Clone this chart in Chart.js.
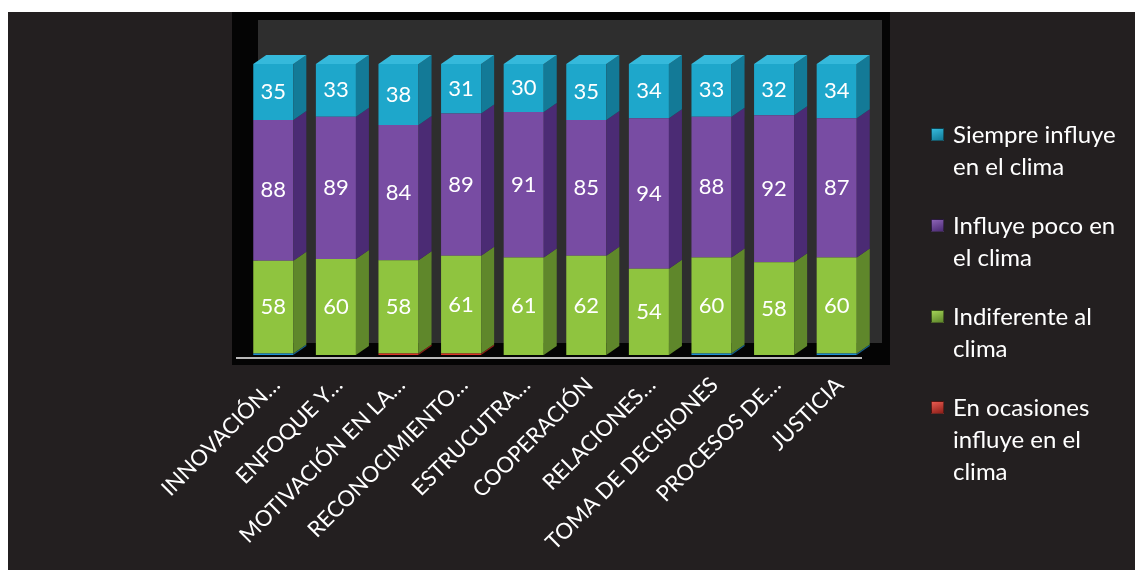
<!DOCTYPE html>
<html>
<head>
<meta charset="utf-8">
<script src="https://cdn.jsdelivr.net/npm/chart.js@4.4.1/dist/chart.umd.min.js"></script>
<style>
  html, body { margin: 0; padding: 0; background: #fff; }
  #wrap { position: relative; width: 1135px; height: 570px; overflow: hidden; }
  #bg { position: absolute; left: 8px; top: 12px; right: 0; bottom: 0; background: #231f20; }
  #chart { position: absolute; left: 0; top: 0; }
  #legend { position: absolute; left: 931px; top: 118px; width: 205px; font-family: Lato, sans-serif; font-size: 24px; line-height: 32px; color: #fff; }
  #legend .item { position: relative; padding-left: 22px; margin-bottom: 27px; }
  #legend .box { position: absolute; left: 0; top: 10px; width: 13px; height: 13px; box-sizing: border-box; border: 1px solid rgba(0,0,0,0.5); }
</style>
</head>
<body>
<div id="wrap">
  <div id="bg"></div>
  <canvas id="chart" width="1135" height="570"></canvas>
  <div id="legend"></div>
</div>
<script>
  var categorias = ["INNOVACIÓN…", "ENFOQUE Y…", "MOTIVACIÓN EN LA…", "RECONOCIMIENTO…", "ESTRUCUTRA…",
                    "COOPERACIÓN", "RELACIONES…", "TOMA DE DECISIONES", "PROCESOS DE…", "JUSTICIA"];
  var siempre     = [35, 33, 38, 31, 30, 35, 34, 33, 32, 34];
  var poco        = [88, 89, 84, 89, 91, 85, 94, 88, 92, 87];
  var indiferente = [58, 60, 58, 61, 61, 62, 54, 60, 58, 60];
  var ocasiones   = [0, 0, 1, 1, 0, 0, 0, 0, 0, 0];
  var sinDato     = [1, 0, 0, 0, 0, 0, 0, 1, 0, 1];

  // colores: cara frontal, lateral y superior de cada serie
  var estilos = {
    ocasiones:   { front: "#d9362c", side: "#8f1f19", top: "#e85a50" },
    sinDato:     { front: "#1f8fd6", side: "#155f8f", top: "#3aa3e0" },
    indiferente: { front: "#8fc43f", side: "#5f872b", top: "#a3d257" },
    poco:        { front: "#784ca3", side: "#4b2b74", top: "#8c63b5" },
    siempre:     { front: "#1ea7cb", side: "#137a97", top: "#35b9db" }
  };

  var series = [
    { key: "ocasiones",   label: "En ocasiones influye en el clima", data: ocasiones,   legend: true },
    { key: "sinDato",     label: "Sin dato",                          data: sinDato,     legend: false },
    { key: "indiferente", label: "Indiferente al clima",              data: indiferente, legend: true },
    { key: "poco",        label: "Influye poco en el clima",          data: poco,        legend: true },
    { key: "siempre",     label: "Siempre influye en el clima",       data: siempre,     legend: true }
  ];

  // totales por categoría para apilar al 100 %
  var totales = categorias.map(function (c, i) {
    return series.reduce(function (s, d) { return s + d.data[i]; }, 0);
  });

  var DX = 13, DY = 9;

  var barras3d = {
    id: "barras3d",
    beforeDatasetsDraw: function (chart) {
      var ctx = chart.ctx, a = chart.chartArea;
      ctx.save();
      ctx.fillStyle = "#040404";
      ctx.fillRect(a.left - 10, a.top - 52, a.right - a.left + 32, a.bottom - a.top + 62);
      ctx.fillStyle = "#2e2e2e";
      ctx.fillRect(a.left + 16, a.top - 44, a.right - a.left - 2, a.bottom - a.top + 32);
      ctx.restore();
    },
    afterDatasetsDraw: function (chart) {
      var ctx = chart.ctx, a = chart.chartArea;
      ctx.save();
      chart.data.datasets.forEach(function (ds, di) {
        var meta = chart.getDatasetMeta(di);
        var st = estilos[ds.key];
        meta.data.forEach(function (bar, i) {
          if (ds.raw[i] === 0) return;
          var xl = bar.x - bar.width / 2, xr = bar.x + bar.width / 2;
          var yt = Math.min(bar.y, bar.base), yb = Math.max(bar.y, bar.base);
          ctx.fillStyle = st.side;
          ctx.beginPath();
          ctx.moveTo(xr, yt);
          ctx.lineTo(xr + DX, yt - DY);
          ctx.lineTo(xr + DX, yb - DY);
          ctx.lineTo(xr, yb);
          ctx.closePath();
          ctx.fill();
          if (di === chart.data.datasets.length - 1) {
            ctx.fillStyle = st.top;
            ctx.beginPath();
            ctx.moveTo(xl, yt);
            ctx.lineTo(xl + DX, yt - DY);
            ctx.lineTo(xr + DX, yt - DY);
            ctx.lineTo(xr, yt);
            ctx.closePath();
            ctx.fill();
          }
        });
      });
      // línea del eje
      ctx.strokeStyle = "#b9b9b9";
      ctx.lineWidth = 2;
      ctx.beginPath();
      ctx.moveTo(a.left - 6, a.bottom + 3);
      ctx.lineTo(a.right - 6, a.bottom + 3);
      ctx.stroke();
      // valores
      ctx.fillStyle = "#fff";
      ctx.font = "22px Lato, sans-serif";
      ctx.textAlign = "center";
      ctx.textBaseline = "middle";
      chart.data.datasets.forEach(function (ds, di) {
        var meta = chart.getDatasetMeta(di);
        meta.data.forEach(function (bar, i) {
          if (ds.raw[i] < 5) return;
          ctx.fillText(String(ds.raw[i]), bar.x, (bar.y + bar.base) / 2);
        });
      });
      ctx.restore();
    }
  };

  new Chart(document.getElementById("chart"), {
    type: "bar",
    data: {
      labels: categorias,
      datasets: series.map(function (s) {
        return {
          key: s.key,
          label: s.label,
          raw: s.data,
          data: s.data.map(function (v, i) { return v / totales[i] * 100; }),
          backgroundColor: estilos[s.key].front,
          borderWidth: 0,
          barPercentage: 0.64,
          categoryPercentage: 1
        };
      })
    },
    options: {
      responsive: false,
      animation: false,
      layout: { padding: { left: 242, right: 267, top: 64, bottom: 0 } },
      plugins: { legend: { display: false }, tooltip: { enabled: false } },
      scales: {
        x: {
          stacked: true,
          grid: { display: false },
          border: { display: false },
          ticks: {
            color: "#fff",
            font: { family: "Lato, sans-serif", size: 22 },
            minRotation: 45,
            maxRotation: 45,
            autoSkip: false,
            padding: 9,
            labelOffset: 3
          },
          afterFit: function (scale) { scale.height = 215; }
        },
        y: { stacked: true, display: false, min: 0, max: 100 }
      }
    },
    plugins: [barras3d]
  });

  // leyenda en el orden de la pila, de arriba abajo
  var leyenda = document.getElementById("legend");
  series.slice().reverse().forEach(function (s) {
    if (!s.legend) return;
    var item = document.createElement("div");
    item.className = "item";
    var box = document.createElement("span");
    box.className = "box";
    box.style.background = "linear-gradient(160deg, " + estilos[s.key].top + ", " + estilos[s.key].side + ")";
    item.appendChild(box);
    item.appendChild(document.createTextNode(s.label));
    leyenda.appendChild(item);
  });
</script>
</body>
</html>
